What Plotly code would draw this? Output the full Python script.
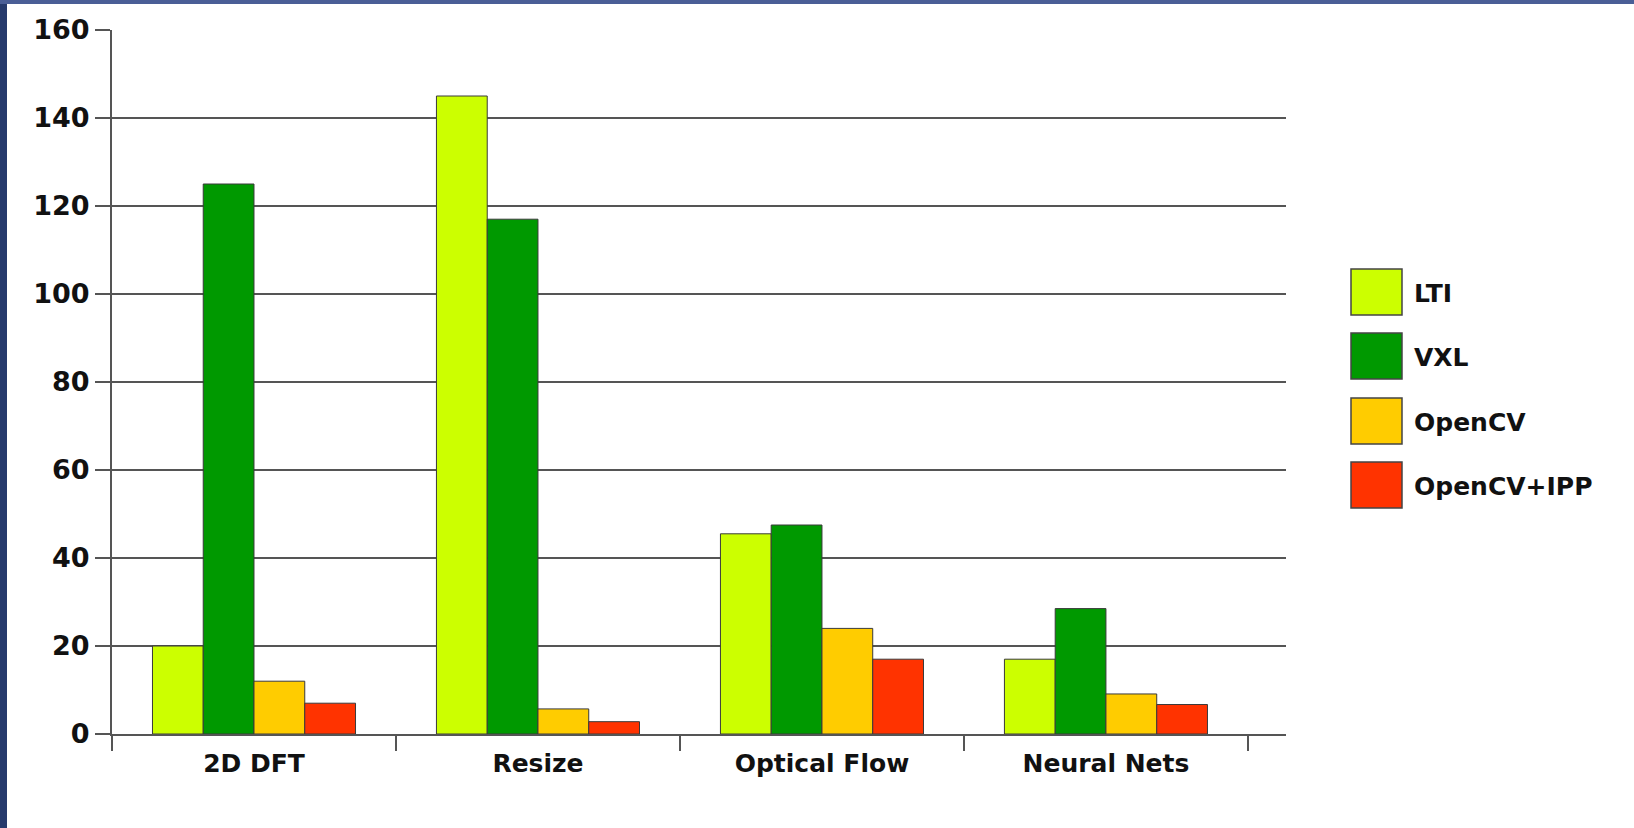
import plotly.graph_objects as go

categories = ["2D DFT", "Resize", "Optical Flow", "Neural Nets"]
series_names = ["LTI", "VXL", "OpenCV", "OpenCV+IPP"]
lti = [20, 145, 45.5, 17]
vxl = [125, 117, 47.5, 28.5]
opencv = [12, 5.7, 24, 9.1]
opencv_ipp = [7, 2.8, 17, 6.7]
series_values = [lti, vxl, opencv, opencv_ipp]
colors = ["#CCFF00", "#009900", "#FFCC00", "#FF3300"]
y_ticks = [0, 20, 40, 60, 80, 100, 120, 140, 160]

W, H = 1634, 828
L, R, T, B = 112, 1286, 30, 734

FONT = "DejaVu Sans"

fig = go.Figure()
for name, vals, col in zip(series_names, series_values, colors):
    fig.add_trace(go.Bar(
        x=categories, y=vals, name=name,
        marker=dict(color=col, line=dict(color="#3a3a3a", width=1)),
        showlegend=False,
    ))

def px(x):
    return (x - L) / (R - L)

def py(y):
    return (B - y) / (B - T)

shapes = []
annotations = []
# custom legend with large swatches
box_tops = [269, 333, 398, 462]
for name, col, top in zip(series_names, colors, box_tops):
    shapes.append(dict(type="rect", xref="paper", yref="paper",
                       x0=px(1351), x1=px(1402), y0=py(top + 46), y1=py(top),
                       fillcolor=col, line=dict(color="#444444", width=1.5)))
    annotations.append(dict(xref="paper", yref="paper", x=px(1412), y=py(top + 24),
                            text=name, showarrow=False, xanchor="left", yanchor="middle",
                            font=dict(family=FONT, size=25, color="#111111", weight="bold")))

# slide-like dark blue border on left and top
shapes.append(dict(type="rect", xref="paper", yref="paper", layer="above",
                   x0=px(0), x1=px(7), y0=py(H), y1=py(0),
                   fillcolor="#263a6c", line=dict(width=0)))
shapes.append(dict(type="rect", xref="paper", yref="paper", layer="above",
                   x0=px(0), x1=px(W), y0=py(4), y1=py(0),
                   fillcolor="#4a5e96", line=dict(width=0)))

fig.update_layout(
    width=W, height=H,
    margin=dict(l=L, r=W - R, t=T, b=H - B, pad=0),
    paper_bgcolor="white", plot_bgcolor="white",
    barmode="group", bargap=0.285, bargroupgap=0,
    shapes=shapes, annotations=annotations,
    font=dict(family=FONT, color="#111111"),
)
fig.update_xaxes(
    range=[-0.5, 3.634], tickson="boundaries", ticks="outside", ticklen=15,
    tickwidth=2, tickcolor="#555555",
    showline=True, linecolor="#555555", linewidth=2,
    showgrid=False, ticklabelstandoff=6,
    tickfont=dict(family=FONT, size=25, color="#111111", weight="bold"),
)
fig.update_yaxes(
    range=[0, 160], tickvals=y_ticks, ticks="outside", ticklen=15,
    tickwidth=2, tickcolor="#555555",
    showline=True, linecolor="#555555", linewidth=2,
    showgrid=True, gridcolor="#555555", gridwidth=2,
    zeroline=False, ticklabelstandoff=0,
    tickfont=dict(family=FONT, size=27, color="#111111", weight="bold"),
)

fig.write_html("out.html")
